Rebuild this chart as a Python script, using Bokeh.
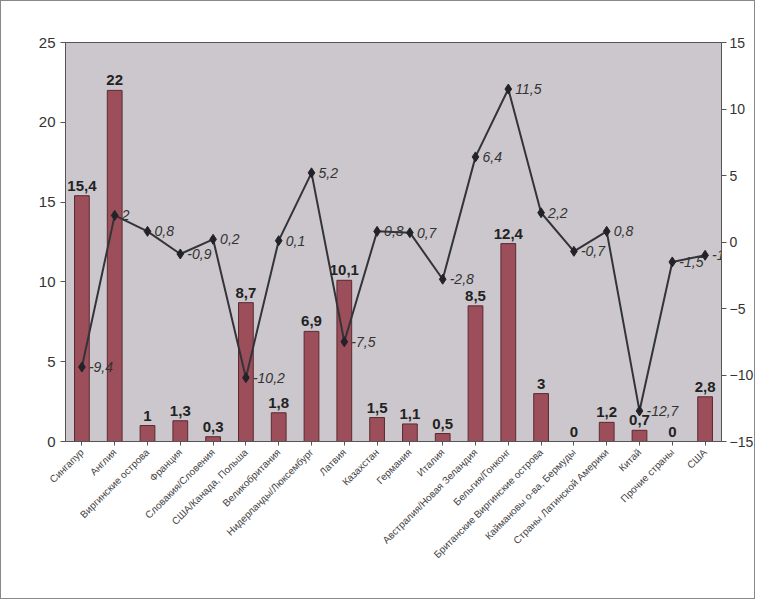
import math
from bokeh.plotting import figure
from bokeh.models import Range1d, LinearAxis, ColumnDataSource, FixedTicker
from bokeh.core.properties import value
from bokeh.embed import file_html
from bokeh.resources import INLINE

categories = [
    "Сингапур", "Англия", "Виргинские острова", "Франция",
    "Словакия/Словения", "США/Канада, Польша", "Великобритания",
    "Нидерланды/Люксембург", "Латвия", "Казахстан", "Германия", "Италия",
    "Австралия/Новая Зеландия", "Бельгия/Гонконг",
    "Британские Виргинские острова", "Каймановы о-ва, Бермуды",
    "Страны Латинской Америки", "Китай", "Прочие страны", "США",
]
bar_values = [15.4, 22, 1, 1.3, 0.3, 8.7, 1.8, 6.9, 10.1, 1.5, 1.1, 0.5,
              8.5, 12.4, 3, 0, 1.2, 0.7, 0, 2.8]
line_values = [-9.4, 2, 0.8, -0.9, 0.2, -10.2, 0.1, 5.2, -7.5, 0.8, 0.7, -2.8,
               6.4, 11.5, 2.2, -0.7, 0.8, -12.7, -1.5, -1]
left_ticks = [0, 5, 10, 15, 20, 25]
right_ticks = [-15, -10, -5, 0, 5, 10, 15]


def fmt(v):
    s = ("%g" % v).replace(".", ",")
    return s


src = ColumnDataSource(dict(
    cat=categories,
    bar=bar_values,
    line=line_values,
    bar_lab=[fmt(v) for v in bar_values],
    line_lab=[fmt(v) for v in line_values],
))

FONT = "Liberation Sans"

p = figure(
    x_range=categories, y_range=Range1d(0, 25),
    width=755, height=599, output_backend="svg", toolbar_location=None,
    min_border_left=64, min_border_top=41, min_border_right=26,
    min_border_bottom=159,
    background_fill_color="#cbc7cc", border_fill_color="white",
    outline_line_color="#555555", outline_line_width=1,
)
p.extra_y_ranges = {"right": Range1d(-15, 15)}

p.vbar(x="cat", top="bar", width=0.45, source=src,
       fill_color="#9c4e5a", line_color="#5a2a30", line_width=1)
p.line(x="cat", y="line", source=src, y_range_name="right",
       line_color="#33333a", line_width=2)
p.scatter(x="cat", y="line", source=src, y_range_name="right",
          marker="diamond", size=10, fill_color="#222228",
          line_color="#222228")

p.text(x="cat", y="bar", text="bar_lab", source=src,
       text_align="center", text_baseline="bottom", y_offset=-5,
       text_font=value(FONT), text_font_size="15px",
       text_font_style="bold", text_color="#222222")
p.text(x="cat", y="line", text="line_lab", source=src,
       y_range_name="right", text_align="left", text_baseline="middle",
       x_offset=7, text_font=value(FONT), text_font_size="14px",
       text_font_style="italic", text_color="#333333")

right_axis = LinearAxis(y_range_name="right",
                        ticker=FixedTicker(ticks=right_ticks))
p.add_layout(right_axis, "right")

p.yaxis[0].ticker = FixedTicker(ticks=left_ticks)

for ax in p.yaxis:
    ax.major_label_text_font = FONT
    ax.major_label_text_font_size = "15px"
    ax.major_label_text_color = "#333333"
    ax.axis_line_color = "#555555"
    ax.major_tick_line_color = "#555555"
    ax.minor_tick_line_color = None
    ax.major_tick_out = 5
    ax.major_tick_in = 0
right_axis.major_label_text_font_size = "14px"
right_axis.major_label_standoff = 3

p.xaxis.major_label_orientation = math.pi / 4
p.xaxis.major_label_text_font = FONT
p.xaxis.major_label_text_font_size = "10px"
p.xaxis.major_label_text_color = "#444444"
p.xaxis.axis_line_color = "#555555"
p.xaxis.major_tick_line_color = "#555555"
p.xaxis.major_tick_out = 4
p.xaxis.major_tick_in = 0

p.xgrid.grid_line_color = None
p.ygrid.grid_line_color = None
p.styles = {"border": "1px solid #888888"}

open("out.html", "w").write(file_html(p, INLINE))
